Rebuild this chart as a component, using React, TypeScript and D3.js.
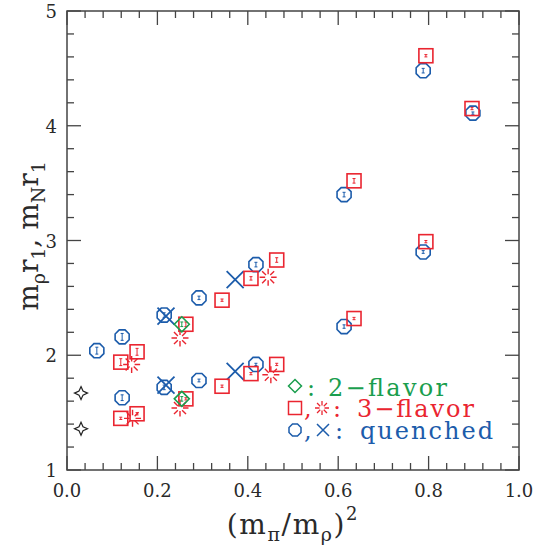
import React from 'react';
import * as d3 from 'd3';

// [x, y, err]
const quenchedOct = [
  [0.066, 2.04, 0.03], [0.122, 2.16, 0.03], [0.122, 1.63, 0.025],
  [0.215, 2.35, 0.02], [0.215, 1.72, 0.02], [0.292, 2.5, 0.015],
  [0.292, 1.78, 0.012], [0.418, 2.79, 0.02], [0.418, 1.92, 0.01],
  [0.613, 3.4, 0.02], [0.613, 2.25, 0.015], [0.788, 4.48, 0.02],
  [0.788, 2.9, 0.012], [0.898, 4.11, 0.01],
];
const quenchedX = [[0.219, 2.34], [0.219, 1.74], [0.372, 2.66], [0.372, 1.86]];
const flavor3Sq = [
  [0.119, 1.94, 0.03], [0.119, 1.45, 0.01], [0.155, 2.03, 0.03],
  [0.155, 1.49, 0.01], [0.263, 2.27, 0.02], [0.263, 1.62, 0.01],
  [0.343, 2.48, 0.01], [0.343, 1.73, 0.01], [0.407, 2.67, 0.015],
  [0.407, 1.84, 0.01], [0.464, 2.83, 0.02], [0.464, 1.92, 0.01],
  [0.635, 3.52, 0.02], [0.635, 2.32, 0.01], [0.794, 4.61, 0.01],
  [0.794, 2.99, 0.01], [0.896, 4.15, 0.01],
];
const flavor3Burst = [[0.143, 1.92], [0.145, 1.45], [0.25, 2.15], [0.25, 1.54], [0.445, 2.68], [0.451, 1.83]];
const flavor2Dia = [[0.254, 2.27, 0.02], [0.254, 1.62, 0.02]];
const blackStars = [[0.031, 1.67], [0.031, 1.36]];
const xTicks = [0, 0.2, 0.4, 0.6, 0.8, 1.0];
const yTicks = [1, 2, 3, 4, 5];

const BLUE = '#1c5cab';
const RED = '#ea2530';
const GREEN = '#1a9e4e';
const AXIS = '#444';
const INK = '#2a2a2a';
const FONT = '"DejaVu Serif", serif';

const x = d3.scaleLinear().domain([0, 1]).range([67, 519]);
const y = d3.scaleLinear().domain([1, 5]).range([470, 11]);

const octagon = (r: number) =>
  d3.line().curve(d3.curveLinearClosed)(
    d3.range(8).map(i => {
      const a = (Math.PI / 8) + (i * Math.PI) / 4;
      return [r * Math.cos(a), r * Math.sin(a)] as [number, number];
    })
  );
const xmark = (s: number) => `M${-s},${-s}L${s},${s}M${-s},${s}L${s},${-s}`;
const burst = (r1: number, r2: number) =>
  d3.range(8).map(i => {
    const a = (i * Math.PI) / 4;
    return `M${r1 * Math.cos(a)},${r1 * Math.sin(a)}L${r2 * Math.cos(a)},${r2 * Math.sin(a)}`;
  }).join('');
const star4 = (R: number, r: number) =>
  `M0,${-R}L${r},${-r}L${R},0L${r},${r}L0,${R}L${-r},${r}L${-R},0L${-r},${-r}Z`;
const diamond = (d: number) => `M0,${-d}L${d},0L0,${d}L${-d},0Z`;

const ErrBar = ({ d, color }) => {
  const cx = x(d[0]);
  const y0 = y(d[1] - d[2]);
  const y1 = y(d[1] + d[2]);
  return (
    <path d={`M${cx},${y0}L${cx},${y1}M${cx - 1.5},${y0}L${cx + 1.5},${y0}M${cx - 1.5},${y1}L${cx + 1.5},${y1}`}
      stroke={color} strokeWidth={1} fill="none" />
  );
};

const App = () => {
  const xMinor = d3.range(0, 1.0001, 0.04);
  const yMinor = d3.range(1, 5.0001, 0.2);
  const [x0, x1] = x.range();
  const [y0, y1] = y.range();
  return (
    <svg width={549} height={547} style={{ position: 'absolute', left: 0, top: 0 }} fontFamily={FONT}>
      <rect width={549} height={547} fill="white" />
      {/* ticks */}
      <g stroke={AXIS} strokeWidth={1.3}>
        {xMinor.map((v, i) => {
          const l = i % 5 === 0 ? 14 : 7;
          return (
            <g key={'xt' + i}>
              <line x1={x(v)} x2={x(v)} y1={y0} y2={y0 - l} />
              <line x1={x(v)} x2={x(v)} y1={y1} y2={y1 + l} />
            </g>
          );
        })}
        {yMinor.map((v, i) => {
          const l = i % 5 === 0 ? 14 : 7;
          return (
            <g key={'yt' + i}>
              <line x1={x0} x2={x0 + l} y1={y(v)} y2={y(v)} />
              <line x1={x1} x2={x1 - l} y1={y(v)} y2={y(v)} />
            </g>
          );
        })}
      </g>
      <rect x={x0} y={y1} width={x1 - x0} height={y0 - y1} fill="none" stroke={AXIS} strokeWidth={1.5} />
      {xTicks.map(v => (
        <text key={'xl' + v} x={x(v)} y={y0 + 27} textAnchor="middle" fontSize={18} fill={INK}>{v.toFixed(1)}</text>
      ))}
      {yTicks.map(v => (
        <text key={'yl' + v} x={x0 - 10} y={y(v) + 7} textAnchor="end" fontSize={18} fill={INK}>{v}</text>
      ))}
      <text x={(x0 + x1) / 2} y={534} textAnchor="middle" fontSize={28} fill={INK} letterSpacing={1.6}>
        (m<tspan fontSize={19} dy={7}>π</tspan><tspan dy={-7}>/m</tspan><tspan fontSize={19} dy={7}>ρ</tspan><tspan dy={-7}>)</tspan><tspan fontSize={18} dy={-14}>2</tspan>
      </text>
      <text transform="translate(38,236) rotate(-90)" textAnchor="middle" fontSize={28} fill={INK}>
        m<tspan fontSize={19} dy={7}>ρ</tspan><tspan dy={-7}>r</tspan><tspan fontSize={19} dy={7}>1</tspan><tspan dy={-7}>, m</tspan><tspan fontSize={19} dy={7}>N</tspan><tspan dy={-7}>r</tspan><tspan fontSize={19} dy={7}>1</tspan>
      </text>
      {/* black reference points */}
      {blackStars.map((d, i) => (
        <path key={'bs' + i} transform={`translate(${x(d[0])},${y(d[1])})`} d={star4(6.5, 2)} fill="white" stroke="#222" strokeWidth={1.2} />
      ))}
      {/* quenched */}
      {quenchedOct.map((d, i) => (
        <g key={'qo' + i}>
          <path transform={`translate(${x(d[0])},${y(d[1])})`} d={octagon(7.6)} fill="none" stroke={BLUE} strokeWidth={1.6} />
          <ErrBar d={d} color={BLUE} />
        </g>
      ))}
      {quenchedX.map((d, i) => (
        <path key={'qx' + i} transform={`translate(${x(d[0])},${y(d[1])})`} d={xmark(8.5)} fill="none" stroke={BLUE} strokeWidth={1.8} />
      ))}
      {/* 3-flavor */}
      {flavor3Sq.map((d, i) => (
        <g key={'fs' + i}>
          <rect x={x(d[0]) - 7} y={y(d[1]) - 7} width={14} height={14} fill="none" stroke={RED} strokeWidth={1.6} />
          <ErrBar d={d} color={RED} />
        </g>
      ))}
      {flavor3Burst.map((d, i) => (
        <path key={'fb' + i} transform={`translate(${x(d[0])},${y(d[1])})`} d={burst(3, 8.5)} fill="none" stroke={RED} strokeWidth={1.4} />
      ))}
      {/* 2-flavor */}
      {flavor2Dia.map((d, i) => (
        <g key={'fd' + i}>
          <path transform={`translate(${x(d[0])},${y(d[1])})`} d={diamond(7.5)} fill="none" stroke={GREEN} strokeWidth={1.6} />
          <ErrBar d={d} color={GREEN} />
        </g>
      ))}
      {/* legend */}
      <g fontSize={24}>
        <path transform="translate(295,386)" d={diamond(6.5)} fill="none" stroke={GREEN} strokeWidth={1.5} />
        <text x={307} y={396} fill={GREEN}>:</text>
        <text x={328} y={396} fill={GREEN} textLength={119} lengthAdjust="spacing">2−flavor</text>
        <rect x={288.5} y={401.5} width={13} height={13} fill="none" stroke={RED} strokeWidth={1.5} />
        <text x={304} y={417} fill={RED}>,</text>
        <path transform="translate(322,408)" d={burst(2.5, 7)} fill="none" stroke={RED} strokeWidth={1.3} />
        <text x={333} y={417} fill={RED}>:</text>
        <text x={357} y={417} fill={RED} textLength={117} lengthAdjust="spacing">3−flavor</text>
        <path transform="translate(295,430)" d={octagon(6.5)} fill="none" stroke={BLUE} strokeWidth={1.5} />
        <text x={304} y={439} fill={BLUE}>,</text>
        <path transform="translate(323,430)" d={xmark(6)} fill="none" stroke={BLUE} strokeWidth={1.5} />
        <text x={335} y={439} fill={BLUE}>:</text>
        <text x={360} y={439} fill={BLUE} textLength={133} lengthAdjust="spacing">quenched</text>
      </g>
    </svg>
  );
};

export default App;
